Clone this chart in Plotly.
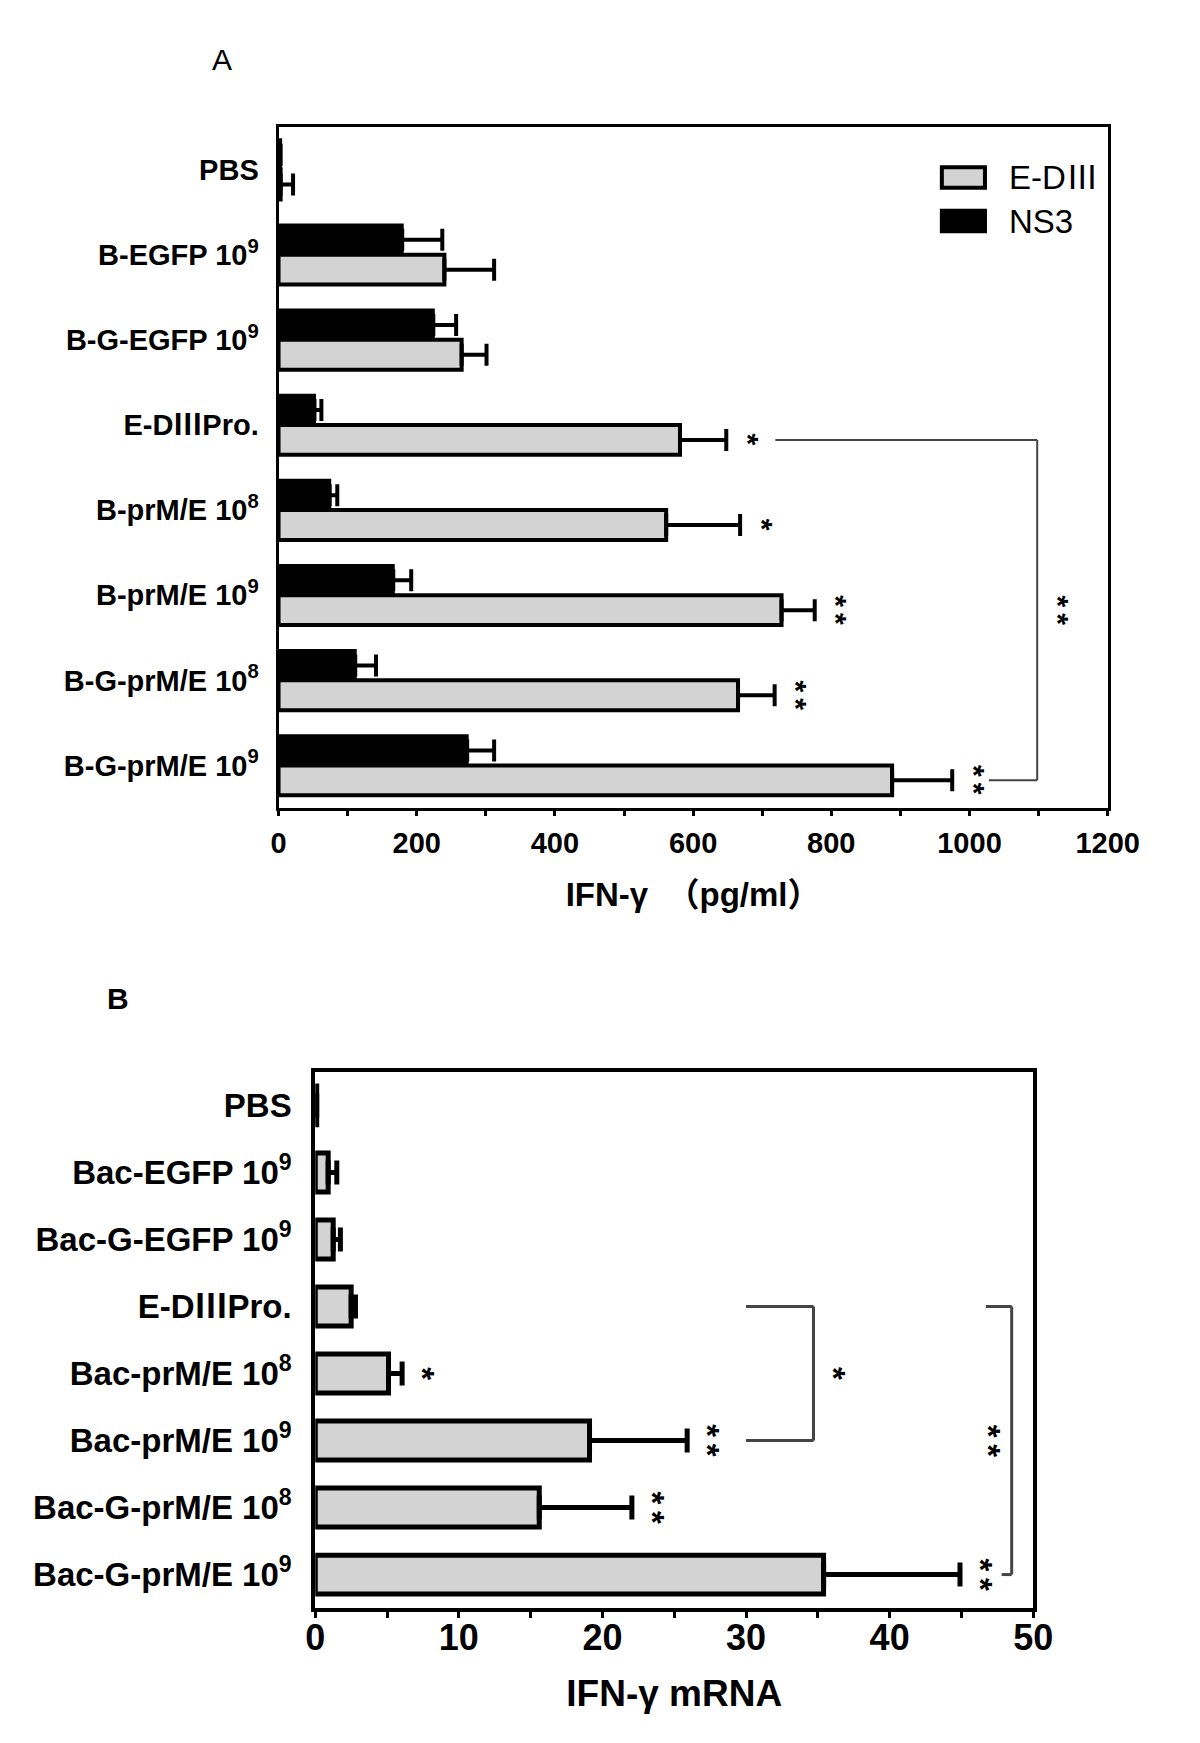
import plotly.graph_objects as go

# ---------------- data ----------------
# Panel A: IFN-gamma (pg/ml), two antigens
cats_a = ["PBS", "B-EGFP 10<sup>9</sup>", "B-G-EGFP 10<sup>9</sup>", "E-DⅢPro.",
          "B-prM/E 10<sup>8</sup>", "B-prM/E 10<sup>9</sup>",
          "B-G-prM/E 10<sup>8</sup>", "B-G-prM/E 10<sup>9</sup>"]
ediii_mean = [3, 240, 265, 581, 561, 728, 665, 888]
ediii_err = [18, 72, 36, 67, 107, 48, 53, 87]
ns3_mean = [3, 179, 224, 52, 74, 166, 111, 273]
ns3_err = [0, 58, 33, 10, 11, 26, 30, 39]
sig_a = ["", "", "", "*", "*", "**", "**", "**"]
ticks_a = [0, 200, 400, 600, 800, 1000, 1200]

# Panel B: IFN-gamma mRNA
cats_b = ["PBS", "Bac-EGFP 10<sup>9</sup>", "Bac-G-EGFP 10<sup>9</sup>", "E-DⅢPro.",
          "Bac-prM/E 10<sup>8</sup>", "Bac-prM/E 10<sup>9</sup>",
          "Bac-G-prM/E 10<sup>8</sup>", "Bac-G-prM/E 10<sup>9</sup>"]
mrna_mean = [0.1, 0.9, 1.25, 2.5, 5.1, 19.1, 15.6, 35.4]
mrna_err = [0, 0.6, 0.5, 0.3, 0.95, 6.8, 6.45, 9.5]
sig_b = ["", "", "", "", "*", "**", "**", "**"]
ticks_b = [0, 10, 20, 30, 40, 50]

# ---------------- styling ----------------
FONT = "Arial, Liberation Sans, Noto Sans CJK SC, sans-serif"
GREY = "#d3d3d3"
GAP = "\u2009"

fig = go.Figure()

fig.add_trace(go.Bar(
    y=cats_a, x=ns3_mean, orientation="h", name="NS3",
    marker=dict(color="black", line=dict(color="black", width=3)),
    error_x=dict(type="data", array=ns3_err, arrayminus=[0] * len(ns3_err),
                 symmetric=False, color="black", thickness=4, width=11),
    xaxis="x", yaxis="y", showlegend=False))
fig.add_trace(go.Bar(
    y=cats_a, x=ediii_mean, orientation="h", name="E-DⅢ",
    marker=dict(color=GREY, line=dict(color="black", width=4)),
    error_x=dict(type="data", array=ediii_err, arrayminus=[0] * len(ediii_err),
                 symmetric=False, color="black", thickness=4, width=11),
    xaxis="x", yaxis="y", showlegend=False))

fig.add_trace(go.Bar(
    y=cats_b, x=mrna_mean, orientation="h", name="IFN-γ mRNA", width=0.58,
    marker=dict(color=GREY, line=dict(color="black", width=5)),
    error_x=dict(type="data", array=mrna_err, arrayminus=[0] * len(mrna_err),
                 symmetric=False, color="black", thickness=5, width=12),
    xaxis="x2", yaxis="y2", showlegend=False))

axis_common = dict(showline=True, linecolor="black", mirror=True, showgrid=False,
                   zeroline=False)

fig.update_layout(
    width=1200, height=1743,
    margin=dict(l=0, r=0, t=0, b=0),
    paper_bgcolor="white", plot_bgcolor="white",
    barmode="group", bargap=0.3, bargroupgap=0,
    font=dict(family=FONT, color="black"),
    xaxis=dict(domain=[0.225, 0.941], anchor="y", range=[0, 1200],
               tickvals=ticks_a, ticks="outside", ticklen=5, tickwidth=2.5,
               tickcolor="black", linewidth=3, ticklabelstandoff=2,
               tickfont=dict(size=29, family=FONT, weight="bold"),
               minor=dict(dtick=100, tick0=0, ticks="outside", ticklen=5,
                          tickwidth=2.5, tickcolor="black"),
               title=dict(text="<b>IFN-γ  （pg/ml）</b>", font=dict(size=33),
                          standoff=26),
               **axis_common),
    yaxis=dict(domain=[0.541, 0.9317], anchor="x", type="category",
               categoryorder="array", categoryarray=cats_a, range=[7.5, -0.5],
               ticks="", linewidth=3, ticklabelstandoff=11,
               tickfont=dict(size=29, family=FONT, weight="bold"),
               **axis_common),
    xaxis2=dict(domain=[0.2567, 0.8767], anchor="y2", range=[0, 50],
                tickvals=ticks_b, ticks="outside", ticklen=6, tickwidth=3,
                tickcolor="black", linewidth=4, ticklabelstandoff=-11,
                tickfont=dict(size=36, family=FONT, weight="bold"),
                minor=dict(dtick=5, tick0=0, ticks="outside", ticklen=6,
                           tickwidth=3, tickcolor="black"),
                title=dict(text="<b>IFN-γ mRNA</b>", font=dict(size=37),
                           standoff=24),
                **axis_common),
    yaxis2=dict(domain=[0.082, 0.3896], anchor="x2", type="category",
                categoryorder="array", categoryarray=cats_b, range=[7.5, -0.5],
                ticks="", linewidth=4, ticklabelstandoff=13,
                tickfont=dict(size=33, family=FONT, weight="bold"),
                **axis_common),
)

ann = []
shapes = []

# panel letters
ann.append(dict(text="A", xref="paper", yref="paper", x=0.176, y=0.9707,
                xanchor="center", yanchor="middle",
                showarrow=False, font=dict(size=30, family=FONT)))
ann.append(dict(text="<b>B</b>", xref="paper", yref="paper", x=0.0867, y=0.432,
                xanchor="center", yanchor="middle",
                showarrow=False, font=dict(size=30, family=FONT)))

# manual legend for panel A
legend_items = [("E-DⅢ", GREY), ("NS3", "black")]
for i, (lab, col) in enumerate(legend_items):
    y0 = 0.941 - i * 0.064
    shapes.append(dict(type="rect", xref="x domain", yref="y domain",
                       x0=0.800, x1=0.852, y0=y0 - 0.030, y1=y0,
                       fillcolor=col, line=dict(color="black", width=4)))
    ann.append(dict(text=lab, xref="x domain", yref="y domain", x=0.878,
                    y=y0 - 0.015, xanchor="left", yanchor="middle",
                    showarrow=False, font=dict(size=33, family=FONT)))


def star_text(s):
    return "<b>" + GAP.join(list(s)) + "</b>"


def star_ann(s, xv, yv, xref, yref, size):
    ann.append(dict(text=star_text(s), x=xv, y=yv, xref=xref, yref=yref,
                    showarrow=False, xanchor="center", yanchor="middle",
                    textangle=90, font=dict(size=size, family=FONT)))


# significance marks, panel A (E-DIII bars, lower bar in each group)
top_a = [m + e for m, e in zip(ediii_mean, ediii_err)]
ypos_a = [i + 0.175 for i in range(len(cats_a))]
for s, xv, yv in zip(sig_a, top_a, ypos_a):
    if s:
        star_ann(s, xv + 32, yv, "x", "y", 30)

# bracket panel A: E-DIIIPro. vs B-G-prM/E 10^9
i_top, i_bot = 3, 7
bx = 1098
line_a = dict(color="#444444", width=2)
shapes += [
    dict(type="line", xref="x", yref="y", x0=top_a[i_top] + 71, x1=bx,
         y0=ypos_a[i_top], y1=ypos_a[i_top], line=line_a),
    dict(type="line", xref="x", yref="y", x0=bx, x1=bx,
         y0=ypos_a[i_top], y1=ypos_a[i_bot], line=line_a),
    dict(type="line", xref="x", yref="y", x0=top_a[i_bot] + 53, x1=bx,
         y0=ypos_a[i_bot], y1=ypos_a[i_bot], line=line_a),
]
star_ann("**", bx + 31, (ypos_a[i_top] + ypos_a[i_bot]) / 2, "x", "y", 30)

# significance marks, panel B
top_b = [m + e for m, e in zip(mrna_mean, mrna_err)]
ypos_b = list(range(len(cats_b)))
for s, xv, yv in zip(sig_b, top_b, ypos_b):
    if s:
        star_ann(s, xv + 1.4, yv, "x2", "y2", 33)

line_b = dict(color="#444444", width=3)
# bracket 1: E-DIIIPro. vs Bac-prM/E 10^9
b1x = 34.7
shapes += [
    dict(type="line", xref="x2", yref="y2", x0=30.0, x1=b1x, y0=3, y1=3, line=line_b),
    dict(type="line", xref="x2", yref="y2", x0=b1x, x1=b1x, y0=3, y1=5, line=line_b),
    dict(type="line", xref="x2", yref="y2", x0=30.0, x1=b1x, y0=5, y1=5, line=line_b),
]
star_ann("*", b1x + 1.4, 4, "x2", "y2", 33)
# bracket 2: E-DIIIPro. vs Bac-G-prM/E 10^9
b2x = 48.5
shapes += [
    dict(type="line", xref="x2", yref="y2", x0=46.7, x1=b2x, y0=3, y1=3, line=line_b),
    dict(type="line", xref="x2", yref="y2", x0=b2x, x1=b2x, y0=3, y1=7, line=line_b),
    dict(type="line", xref="x2", yref="y2", x0=47.8, x1=b2x, y0=7, y1=7, line=line_b),
]
star_ann("**", 46.9, 5, "x2", "y2", 33)

fig.update_layout(annotations=ann, shapes=shapes)
fig.write_html("out.html")
